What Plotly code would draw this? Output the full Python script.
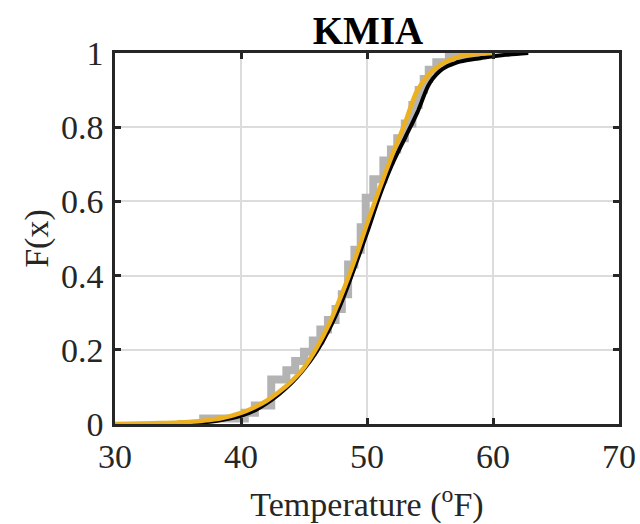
"""Empirical and fitted CDFs of temperature at KMIA."""

import plotly.graph_objects as go

# empirical CDF (gray staircase)
ECDF_X = [35.0, 37.0, 40.3, 41.1, 42.4, 43.6, 44.3, 45.0, 45.7, 46.3, 46.9, 47.5, 48.0,
          48.5, 49.0, 49.5, 49.9, 50.5, 51.3, 51.9, 52.4, 53.0, 53.6, 54.1, 54.5, 54.9,
          55.5, 56.5, 58.5, 59.8]
ECDF_F = [0.0, 0.015, 0.03, 0.05, 0.12, 0.145, 0.17, 0.195, 0.225, 0.255, 0.28, 0.31, 0.35,
          0.43, 0.47, 0.53, 0.61, 0.66, 0.71, 0.74, 0.77, 0.81, 0.86, 0.90, 0.93, 0.955,
          0.975, 0.99, 1.0, 1.0]

# smoothed CDF (black)
SMOOTH_X = [34.5, 36, 38, 40, 41, 42, 43, 44, 45, 46, 47, 48, 49, 50, 51, 52, 53, 54, 55,
            56, 57, 58, 59, 60, 61, 62.8]
SMOOTH_F = [0.0, 0.002, 0.008, 0.022, 0.035, 0.055, 0.08, 0.11, 0.148, 0.195, 0.255, 0.33,
            0.42, 0.515, 0.615, 0.70, 0.77, 0.84, 0.92, 0.957, 0.973, 0.981, 0.986, 0.991,
            0.995, 1.0]

# fitted CDF (yellow)
FIT_X = [30, 33, 35, 37, 38.5, 40, 41, 42, 43, 44, 45, 46, 47, 48, 49, 50, 51, 52, 53, 54,
         55, 56, 57, 58, 59, 60]
FIT_F = [0.0, 0.002, 0.004, 0.009, 0.016, 0.03, 0.044, 0.062, 0.086, 0.115, 0.152, 0.205,
         0.27, 0.35, 0.44, 0.54, 0.635, 0.725, 0.81, 0.90, 0.945, 0.972, 0.987, 0.995,
         0.998, 1.0]

X_TICKS = [30, 40, 50, 60, 70]
Y_TICKS = [0, 0.2, 0.4, 0.6, 0.8, 1]
Y_TICK_TEXT = ["0", "0.2", "0.4", "0.6", "0.8", "1"]

AXIS_COLOR = "#262626"
GRID_COLOR = "#dcdcdc"
GRAY = "#b3b3b3"
YELLOW = "#EDB120"
FONT = "Liberation Serif"

fig = go.Figure()
fig.add_trace(go.Scatter(x=ECDF_X, y=ECDF_F, mode="lines", line=dict(color=GRAY, width=8, shape="hv")))
fig.add_trace(go.Scatter(x=SMOOTH_X, y=SMOOTH_F, mode="lines", line=dict(color="#000000", width=4, shape="spline")))
fig.add_trace(go.Scatter(x=FIT_X, y=FIT_F, mode="lines", line=dict(color=YELLOW, width=4.5, shape="spline")))

fig.update_layout(
    width=640,
    height=524,
    showlegend=False,
    paper_bgcolor="white",
    plot_bgcolor="white",
    margin=dict(l=115, r=21, t=53, b=100),
    font=dict(family=FONT, color=AXIS_COLOR, size=34),
    title=dict(
        text="<b>KMIA</b>",
        x=0.575,
        xanchor="center",
        y=0.943,
        yanchor="middle",
        font=dict(family=FONT, size=39, color="#000000"),
    ),
)
fig.update_xaxes(
    range=[30, 70],
    tickvals=X_TICKS,
    ticks="inside",
    ticklen=6,
    tickwidth=2.5,
    tickcolor=AXIS_COLOR,
    showline=True,
    linecolor=AXIS_COLOR,
    linewidth=2.5,
    mirror="ticks",
    showgrid=True,
    gridcolor=GRID_COLOR,
    gridwidth=1.5,
    zeroline=False,
    automargin=False,
    tickfont=dict(size=34),
    title=dict(text="Temperature (<sup>o</sup>F)", font=dict(size=34), standoff=19),
)
fig.update_yaxes(
    range=[0, 1],
    tickvals=Y_TICKS,
    ticktext=Y_TICK_TEXT,
    ticks="inside",
    ticklen=6,
    tickwidth=2.5,
    tickcolor=AXIS_COLOR,
    showline=True,
    linecolor=AXIS_COLOR,
    linewidth=2.5,
    mirror="ticks",
    showgrid=True,
    gridcolor=GRID_COLOR,
    gridwidth=1.5,
    zeroline=False,
    automargin=False,
    ticklabelstandoff=2,
    tickfont=dict(size=34),
    title=dict(text="F(x)", font=dict(size=34), standoff=3),
)

# the page's default body margin would shift the fixed-size figure
fig.write_html(
    "out.html",
    config={"displayModeBar": False},
    post_script="document.body.style.margin='0';",
)
